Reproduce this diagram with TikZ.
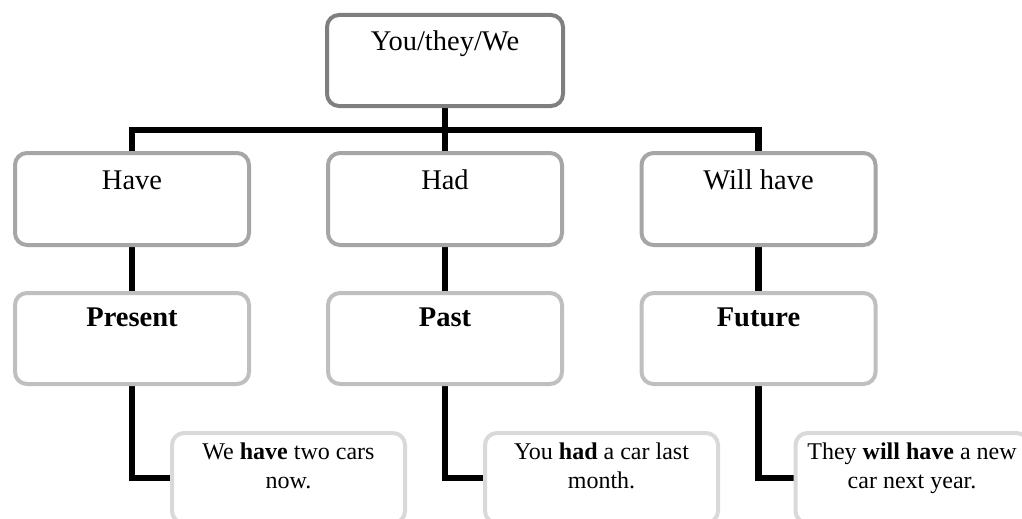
\documentclass[tikz,border=0pt]{standalone}
\usepackage{fontspec}
\setmainfont{Liberation Serif}
\usetikzlibrary{backgrounds}
\definecolor{rootgray}{HTML}{7F7F7F}
\definecolor{formgray}{HTML}{A6A6A6}
\definecolor{tensegray}{HTML}{BFBFBF}
\definecolor{examplegray}{HTML}{D9D9D9}
\tikzset{
  card/.style={draw, fill=white, line width=4pt, rounded corners=12pt,
    inner sep=0pt, align=flush center, text width=234pt,
    font=\fontsize{28.5}{34}\selectfont},
  rootcard/.style={card, draw=rootgray, text width=236pt, text height=36pt, text depth=55pt},
  formcard/.style={card, draw=formgray, text height=36pt, text depth=56pt},
  tensecard/.style={card, draw=tensegray, text height=33.5pt, text depth=57.5pt},
  examplecard/.style={card, draw=examplegray, text width=233pt,
    text height=26pt, text depth=64pt, font=\fontsize{24}{29}\selectfont},
  link/.style={draw=black, line width=6.5pt}
}
\begin{document}
\begin{tikzpicture}[x=1pt, y=-1pt]
\useasboundingbox (0,0) rectangle (1022,519);

% pronoun at the top
\node[rootcard] (root) at (445,60.5) {You/they/We};

% verb forms
\node[formcard] (have) at (132,199) {Have};
\node[formcard] (had) at (445,199) {Had};
\node[formcard] (willhave) at (758.5,199) {Will have};

% tenses
\node[tensecard] (present) at (132,338.5) {\textbf{Present}};
\node[tensecard] (past) at (445,338.5) {\textbf{Past}};
\node[tensecard] (future) at (758.5,338.5) {\textbf{Future}};

% example sentences
\node[examplecard] (ex1) at (288.5,478) {We \textbf{have} two cars\\now.};
\node[examplecard] (ex2) at (601.5,478) {You \textbf{had} a car last\\month.};
\node[examplecard] (ex3) at (912,478) {They \textbf{will have} a new\\car next year.};

\coordinate (bar) at (445,130);

\begin{scope}[on background layer]
  \draw[link] (root.south) -- (bar);
  \draw[link] (bar) -| (have.north);
  \draw[link] (bar) -- (had.north);
  \draw[link] (bar) -| (willhave.north);
  \draw[link] (have.south) -- (present.north);
  \draw[link] (had.south) -- (past.north);
  \draw[link] (willhave.south) -- (future.north);
  \draw[link] (present.south) |- (ex1.west);
  \draw[link] (past.south) |- (ex2.west);
  \draw[link] (future.south) |- (ex3.west);
\end{scope}
\end{tikzpicture}
\end{document}
